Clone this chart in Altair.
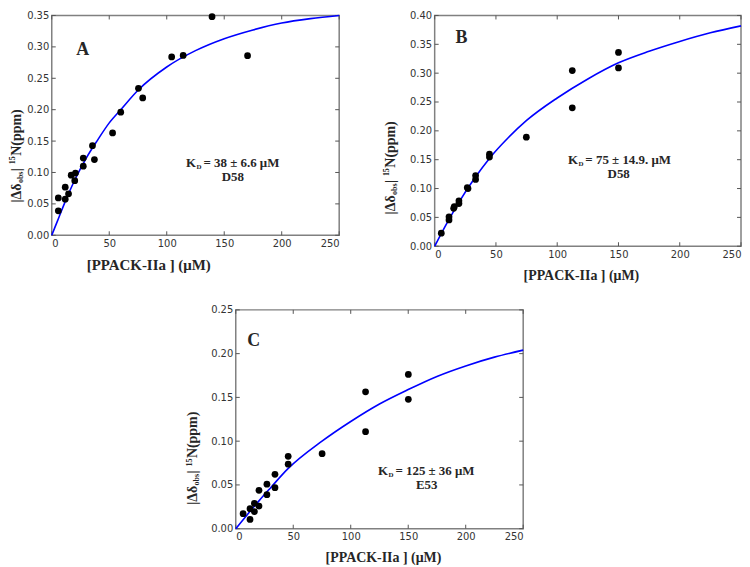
import altair as alt
import pandas as pd

# ---------------- data ----------------
x_ticks = [0, 50, 100, 150, 200, 250]

# Panel A  (D58, KD = 38 uM)
a_conc = [5.7, 5.7, 11.7, 11.7, 14.6, 16.9, 20.6, 20.0, 27.4, 27.4, 35.4, 37.1,
          52.9, 60.0, 75.4, 79.1, 104.3, 114.3, 139.4, 170.3]
a_shift = [0.0595, 0.039, 0.0765, 0.0574, 0.066, 0.0956, 0.099, 0.087, 0.123, 0.110,
           0.1427, 0.1205, 0.163, 0.196, 0.234, 0.2187, 0.284, 0.2864, 0.348, 0.2859]
a_fit_x = [0, 5, 10, 20, 30, 40, 50, 60, 75, 100, 125, 150, 175, 200, 225, 250]
a_fit_y = [0, 0.023, 0.046, 0.088, 0.123, 0.152, 0.179, 0.200, 0.231, 0.268,
           0.294, 0.313, 0.327, 0.338, 0.345, 0.350]
a_yticks = [0.0, 0.05, 0.10, 0.15, 0.20, 0.25, 0.30, 0.35]

# Panel B  (D58, KD = 75 uM)
b_conc = [5.4, 11.7, 11.7, 15.5, 16.0, 19.8, 19.8, 26.6, 27.2, 33.4, 33.4, 44.7,
          44.7, 74.8, 112.3, 112.3, 150.0, 150.0]
b_shift = [0.0225, 0.0455, 0.051, 0.0657, 0.0685, 0.074, 0.0787, 0.1017, 0.100,
           0.1157, 0.1225, 0.1545, 0.1596, 0.189, 0.3045, 0.240, 0.336, 0.309]
b_fit_x = [0, 10, 20, 33, 45, 60, 75, 100, 125, 150, 175, 200, 225, 250]
b_fit_y = [0, 0.040, 0.077, 0.119, 0.153, 0.188, 0.218, 0.257, 0.290, 0.318,
           0.338, 0.355, 0.370, 0.382]
b_yticks = [0.0, 0.05, 0.10, 0.15, 0.20, 0.25, 0.30, 0.35, 0.40]

# Panel C  (E53, KD = 125 uM)
c_conc = [6.4, 12.4, 12.4, 16.2, 16.2, 20.2, 20.2, 27.1, 27.1, 34.1, 34.1, 45.6,
          45.6, 75.1, 112.9, 112.9, 150.1, 150.1]
c_shift = [0.0172, 0.0228, 0.0105, 0.029, 0.0195, 0.0438, 0.0258, 0.0509, 0.0389,
           0.0621, 0.0468, 0.0827, 0.0737, 0.0857, 0.1564, 0.1108, 0.1763, 0.1478]
c_fit_x = [0, 10, 20, 30, 45, 75, 100, 125, 150, 175, 200, 225, 250]
c_fit_y = [0, 0.016, 0.0315, 0.0463, 0.068, 0.100, 0.1225, 0.1425, 0.159, 0.174,
           0.186, 0.196, 0.204]
c_yticks = [0.0, 0.05, 0.10, 0.15, 0.20, 0.25]

X_TITLE = "[PPACK-IIa ] (μM)"

# ---------------- styling ----------------
SERIF = "Liberation Serif"
TXT = "#262626"
FRAME = "#808080"


def txt(text, x, y, size, align="left", baseline="alphabetic", angle=0):
    return alt.Chart(pd.DataFrame({"t": [text]})).mark_text(
        font=SERIF, fontWeight="bold", fontSize=size, color=TXT,
        align=align, baseline=baseline, angle=angle
    ).encode(x=alt.value(x), y=alt.value(y), text="t:N")


def panel(conc, shift, fx, fy, yticks, W, H, xt_x, xt_size, letter, letter_xy,
          kd_val, kd_xy, line2, line2_x, yt_base, yt_start):
    ymax = yticks[-1]
    xs = alt.Scale(domain=[0, 250], nice=False, zero=True)
    ys = alt.Scale(domain=[0, ymax], nice=False, zero=True)
    xax = alt.Axis(values=x_ticks, format="d", title=X_TITLE, titleX=xt_x,
                   titleY=29, titleBaseline="middle", titleAlign="center",
                   titleAnchor="start", titleFontSize=xt_size)
    yax = alt.Axis(values=yticks, format=".2f", title=None)

    def X(f):
        return alt.X(f, type="quantitative", scale=xs, axis=xax)

    def Y(f):
        return alt.Y(f, type="quantitative", scale=ys, axis=yax)

    xt = pd.DataFrame({"c": x_ticks})
    yt = pd.DataFrame({"s": yticks})
    tick_col = "#555555"
    tb = alt.Chart(xt).mark_rule(color=tick_col, strokeWidth=1).encode(
        x=X("c"), y=alt.value(H), y2=alt.value(H - 4))
    tt = alt.Chart(xt).mark_rule(color=tick_col, strokeWidth=1).encode(
        x=X("c"), y=alt.value(0), y2=alt.value(4))
    tl = alt.Chart(yt).mark_rule(color=tick_col, strokeWidth=1).encode(
        y=Y("s"), x=alt.value(0), x2=alt.value(4))
    tr = alt.Chart(yt).mark_rule(color=tick_col, strokeWidth=1).encode(
        y=Y("s"), x=alt.value(W), x2=alt.value(W - 4))

    line = alt.Chart(pd.DataFrame({"c": fx, "s": fy})).mark_line(
        color="#0000ff", strokeWidth=1.6, interpolate="monotone"
    ).encode(x=X("c"), y=Y("s"))
    pts = alt.Chart(pd.DataFrame({"c": conc, "s": shift})).mark_circle(
        size=46, color="black", opacity=1
    ).encode(x=X("c"), y=Y("s"))

    layers = [tb, tt, tl, tr, line, pts]
    # panel letter
    layers.append(txt(letter, letter_xy[0], letter_xy[1], 18, align="center"))
    # K_D annotation
    kx, ky = kd_xy
    layers.append(txt("K", kx, ky, 13))
    layers.append(txt("D", kx + 10.5, ky + 2.5, 7))
    layers.append(txt("= " + kd_val, kx + 17.5, ky, 13))
    layers.append(txt(line2, line2_x, ky + 14.5, 13, align="center"))
    # composite rotated y title  |Δδobs| 15N(ppm)
    pieces = [("|Δδ", 14, 0, 19.5), ("obs", 8, 2.5, 12), ("|", 14, 0, 7),
              ("15", 8, -5.5, 8.5), ("N(ppm)", 14, 0, 55)]
    yy = yt_start
    for t, s, dx, ln in pieces:
        layers.append(txt(t, yt_base + dx, yy, s, angle=270))
        yy -= ln

    return alt.layer(*layers).properties(
        width=W, height=H,
        view=alt.ViewBackground(stroke=FRAME, strokeWidth=1.5))


A = panel(a_conc, a_shift, a_fit_x, a_fit_y, a_yticks, 289, 221, 97, 15, "A", (31, 40),
          "38 ± 6.6 μM", (135, 152), "D58", 182, -31, 188)
B = panel(b_conc, b_shift, b_fit_x, b_fit_y, b_yticks, 308, 232, 147, 14, "B", (27, 28),
          "75 ± 14.9. μM", (134, 149), "D58", 185, -40, 200)
C = panel(c_conc, c_shift, c_fit_x, c_fit_y, c_yticks, 289, 220, 148, 14, "C", (18, 36),
          "125 ± 36 μM", (143, 166), "E53", 192, -39, 196)

spacer = alt.Chart(pd.DataFrame({"v": [0]})).mark_point(opacity=0).encode(
    x=alt.value(0), y=alt.value(0)).properties(width=133, height=1)

chart = alt.vconcat(
    alt.hconcat(A, B, spacing=39),
    alt.hconcat(spacer, C, spacing=0),
    spacing=21,
).properties(
    padding={"left": 0, "top": 0, "right": -3, "bottom": 0}
).configure_view(
    strokeWidth=0
).configure_axis(
    labelFont="DejaVu Sans", labelFontSize=10, labelColor="#333333",
    tickSize=0, domain=False, grid=False, labelPadding=3,
    titleFont=SERIF, titleFontSize=14, titleFontWeight="bold", titleColor=TXT
)

chart.save("out.html", embed_options={"renderer": "svg", "actions": False})
